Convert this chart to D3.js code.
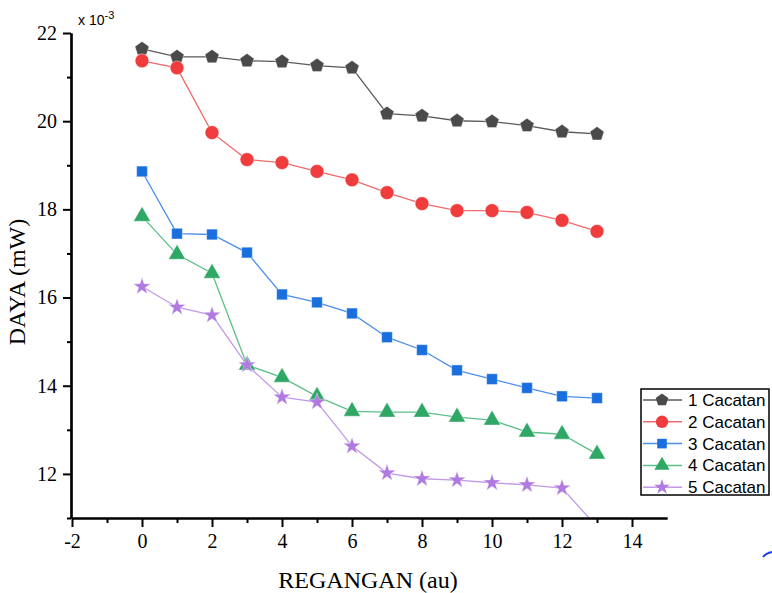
<!DOCTYPE html>
<html>
<head>
<meta charset="utf-8">
<script src="https://cdn.jsdelivr.net/npm/d3@7"></script>
<style>
  body { margin: 0; background: #fff; }
  svg { display: block; }
</style>
</head>
<body>
<svg width="772" height="593"></svg>
<script>
// strain index on x, power on y (x 10^-3 mW)
var regangan = [0,1,2,3,4,5,6,7,8,9,10,11,12,13];
var cacatan1 = [21.64,21.46,21.46,21.37,21.35,21.26,21.21,20.17,20.12,20.01,19.99,19.90,19.76,19.71];
var cacatan2 = [21.37,21.21,19.74,19.13,19.06,18.86,18.67,18.38,18.13,17.97,17.97,17.93,17.75,17.50];
var cacatan3 = [18.86,17.45,17.43,17.02,16.07,15.89,15.64,15.10,14.81,14.35,14.15,13.95,13.76,13.72];
var cacatan4 = [17.84,16.98,16.55,14.47,14.19,13.76,13.42,13.40,13.40,13.29,13.22,12.95,12.90,12.45];
var cacatan5 = [16.25,15.78,15.60,14.47,13.74,13.63,12.63,12.02,11.89,11.86,11.80,11.75,11.68,10.80];
var seriesNames = ['1 Cacatan','2 Cacatan','3 Cacatan','4 Cacatan','5 Cacatan'];
var xTicks = [-2,0,2,4,6,8,10,12,14];
var yTicks = [12,14,16,18,20,22];

var pentagon = {
  draw: function(ctx, size) {
    var r = Math.sqrt(size / 2.378);
    for (var i = 0; i < 5; i++) {
      var a = -Math.PI / 2 + i * 2 * Math.PI / 5;
      if (i == 0) ctx.moveTo(r * Math.cos(a), r * Math.sin(a));
      else ctx.lineTo(r * Math.cos(a), r * Math.sin(a));
    }
    ctx.closePath();
  }
};

var styles = [
  {line:'#5a5a5a', fill:'#4a4a4a', sym: pentagon, size: 130},
  {line:'#f06a6a', fill:'#f03c3c', sym: d3.symbolCircle, size: 150},
  {line:'#4a8fe8', fill:'#1a6fdf', sym: d3.symbolSquare, size: 115},
  {line:'#5cbf88', fill:'#2fa866', sym: d3.symbolTriangle, size: 125},
  {line:'#c29ae8', fill:'#b07ae0', sym: d3.symbolStar, size: 95}
];

var allSeries = [cacatan1, cacatan2, cacatan3, cacatan4, cacatan5];

var svg = d3.select('svg');

var scaleX = d3.scaleLinear().domain([-2,15]).range([72,667]);
var scaleY = d3.scaleLinear().domain([11,22]).range([518,33]);

svg.append('clipPath').attr('id','plotclip')
  .append('rect')
  .attr('x',72).attr('y',25)
  .attr('width',595).attr('height',493);

var plot = svg.append('g').attr('clip-path','url(#plotclip)');

var line = d3.line()
  .x(function(d){ return scaleX(d[0]); })
  .y(function(d){ return scaleY(d[1]); });

allSeries.forEach(function(vals, s) {
  var pts = regangan.map(function(x, i){ return [x, vals[i]]; });
  plot.append('path')
    .datum(pts)
    .attr('d', line)
    .attr('fill','none')
    .attr('stroke', styles[s].line)
    .attr('stroke-width',1.3);
  plot.selectAll('.m' + s)
    .data(pts)
    .enter()
    .append('path')
    .attr('class','m' + s)
    .attr('transform', function(d){ return 'translate(' + scaleX(d[0]) + ',' + scaleY(d[1]) + ')'; })
    .attr('d', d3.symbol().type(styles[s].sym).size(styles[s].size))
    .attr('fill', styles[s].fill)
    .attr('stroke','#ffffff')
    .attr('stroke-opacity',0.5)
    .attr('stroke-width',0.8);
});

// axes
var minorX = d3.range(-1, 15, 2);
var minorY = d3.range(11, 22, 2);
var plain = function(d){ return String(d); };

svg.append('g')
  .attr('transform','translate(0,518)')
  .call(d3.axisBottom(scaleX).tickValues(minorX).tickSize(5).tickSizeOuter(0).tickFormat(''));
svg.append('g')
  .attr('transform','translate(0,518)')
  .call(d3.axisBottom(scaleX).tickValues(xTicks).tickSize(9).tickSizeOuter(0).tickPadding(7).tickFormat(plain));

svg.append('g')
  .attr('transform','translate(71,0)')
  .call(d3.axisLeft(scaleY).tickValues(minorY).tickSize(4).tickSizeOuter(0).tickFormat(''));
svg.append('g')
  .attr('transform','translate(71,0)')
  .call(d3.axisLeft(scaleY).tickValues(yTicks).tickSize(8).tickSizeOuter(0).tickPadding(6).tickFormat(plain));

svg.selectAll('.domain').attr('stroke','#000').attr('stroke-width',2.2);
svg.selectAll('.tick line').attr('stroke','#000').attr('stroke-width',2);
svg.selectAll('.tick text')
  .attr('font-family','"Liberation Serif", "Times New Roman", serif')
  .attr('font-size',20)
  .attr('fill','#000');

// axis titles
svg.append('text')
  .attr('x',368)
  .attr('y',588)
  .attr('text-anchor','middle')
  .attr('font-family','"Liberation Serif", "Times New Roman", serif')
  .attr('font-size',24)
  .text('REGANGAN (au)');

svg.append('text')
  .attr('transform','translate(25,282) rotate(-90)')
  .attr('text-anchor','middle')
  .attr('font-family','"Liberation Serif", "Times New Roman", serif')
  .attr('font-size',24)
  .text('DAYA (mW)');

var mult = svg.append('text')
  .attr('x',78)
  .attr('y',25)
  .attr('font-family','"Liberation Sans", Arial, sans-serif')
  .attr('font-size',14)
  .attr('fill','#000');
mult.append('tspan').text('x 10');
mult.append('tspan').attr('dy',-6).attr('font-size',11).text('-3');

// legend
var legend = svg.append('g').attr('transform','translate(641,389)');
legend.append('rect')
  .attr('width',128).attr('height',106)
  .attr('fill','#fff')
  .attr('stroke','#000')
  .attr('stroke-width',1.5);

seriesNames.forEach(function(name, s) {
  var yy = 11 + s * 21.8;
  legend.append('line')
    .attr('x1',2).attr('x2',41)
    .attr('y1',yy).attr('y2',yy)
    .attr('stroke', styles[s].line)
    .attr('stroke-width',1.5);
  legend.append('path')
    .attr('transform','translate(21,' + yy + ')')
    .attr('d', d3.symbol().type(styles[s].sym).size(styles[s].size * 0.8))
    .attr('fill', styles[s].fill);
  legend.append('text')
    .attr('x',47)
    .attr('y',yy + 6)
    .attr('font-family','"Liberation Sans", Arial, sans-serif')
    .attr('font-size',17)
    .text(name);
});

// small stray blue stroke at bottom right of the original figure
svg.append('path')
  .attr('d','M763,557 Q766,553 772,552')
  .attr('fill','none')
  .attr('stroke','#1a3fe8')
  .attr('stroke-width',2);
</script>
</body>
</html>
